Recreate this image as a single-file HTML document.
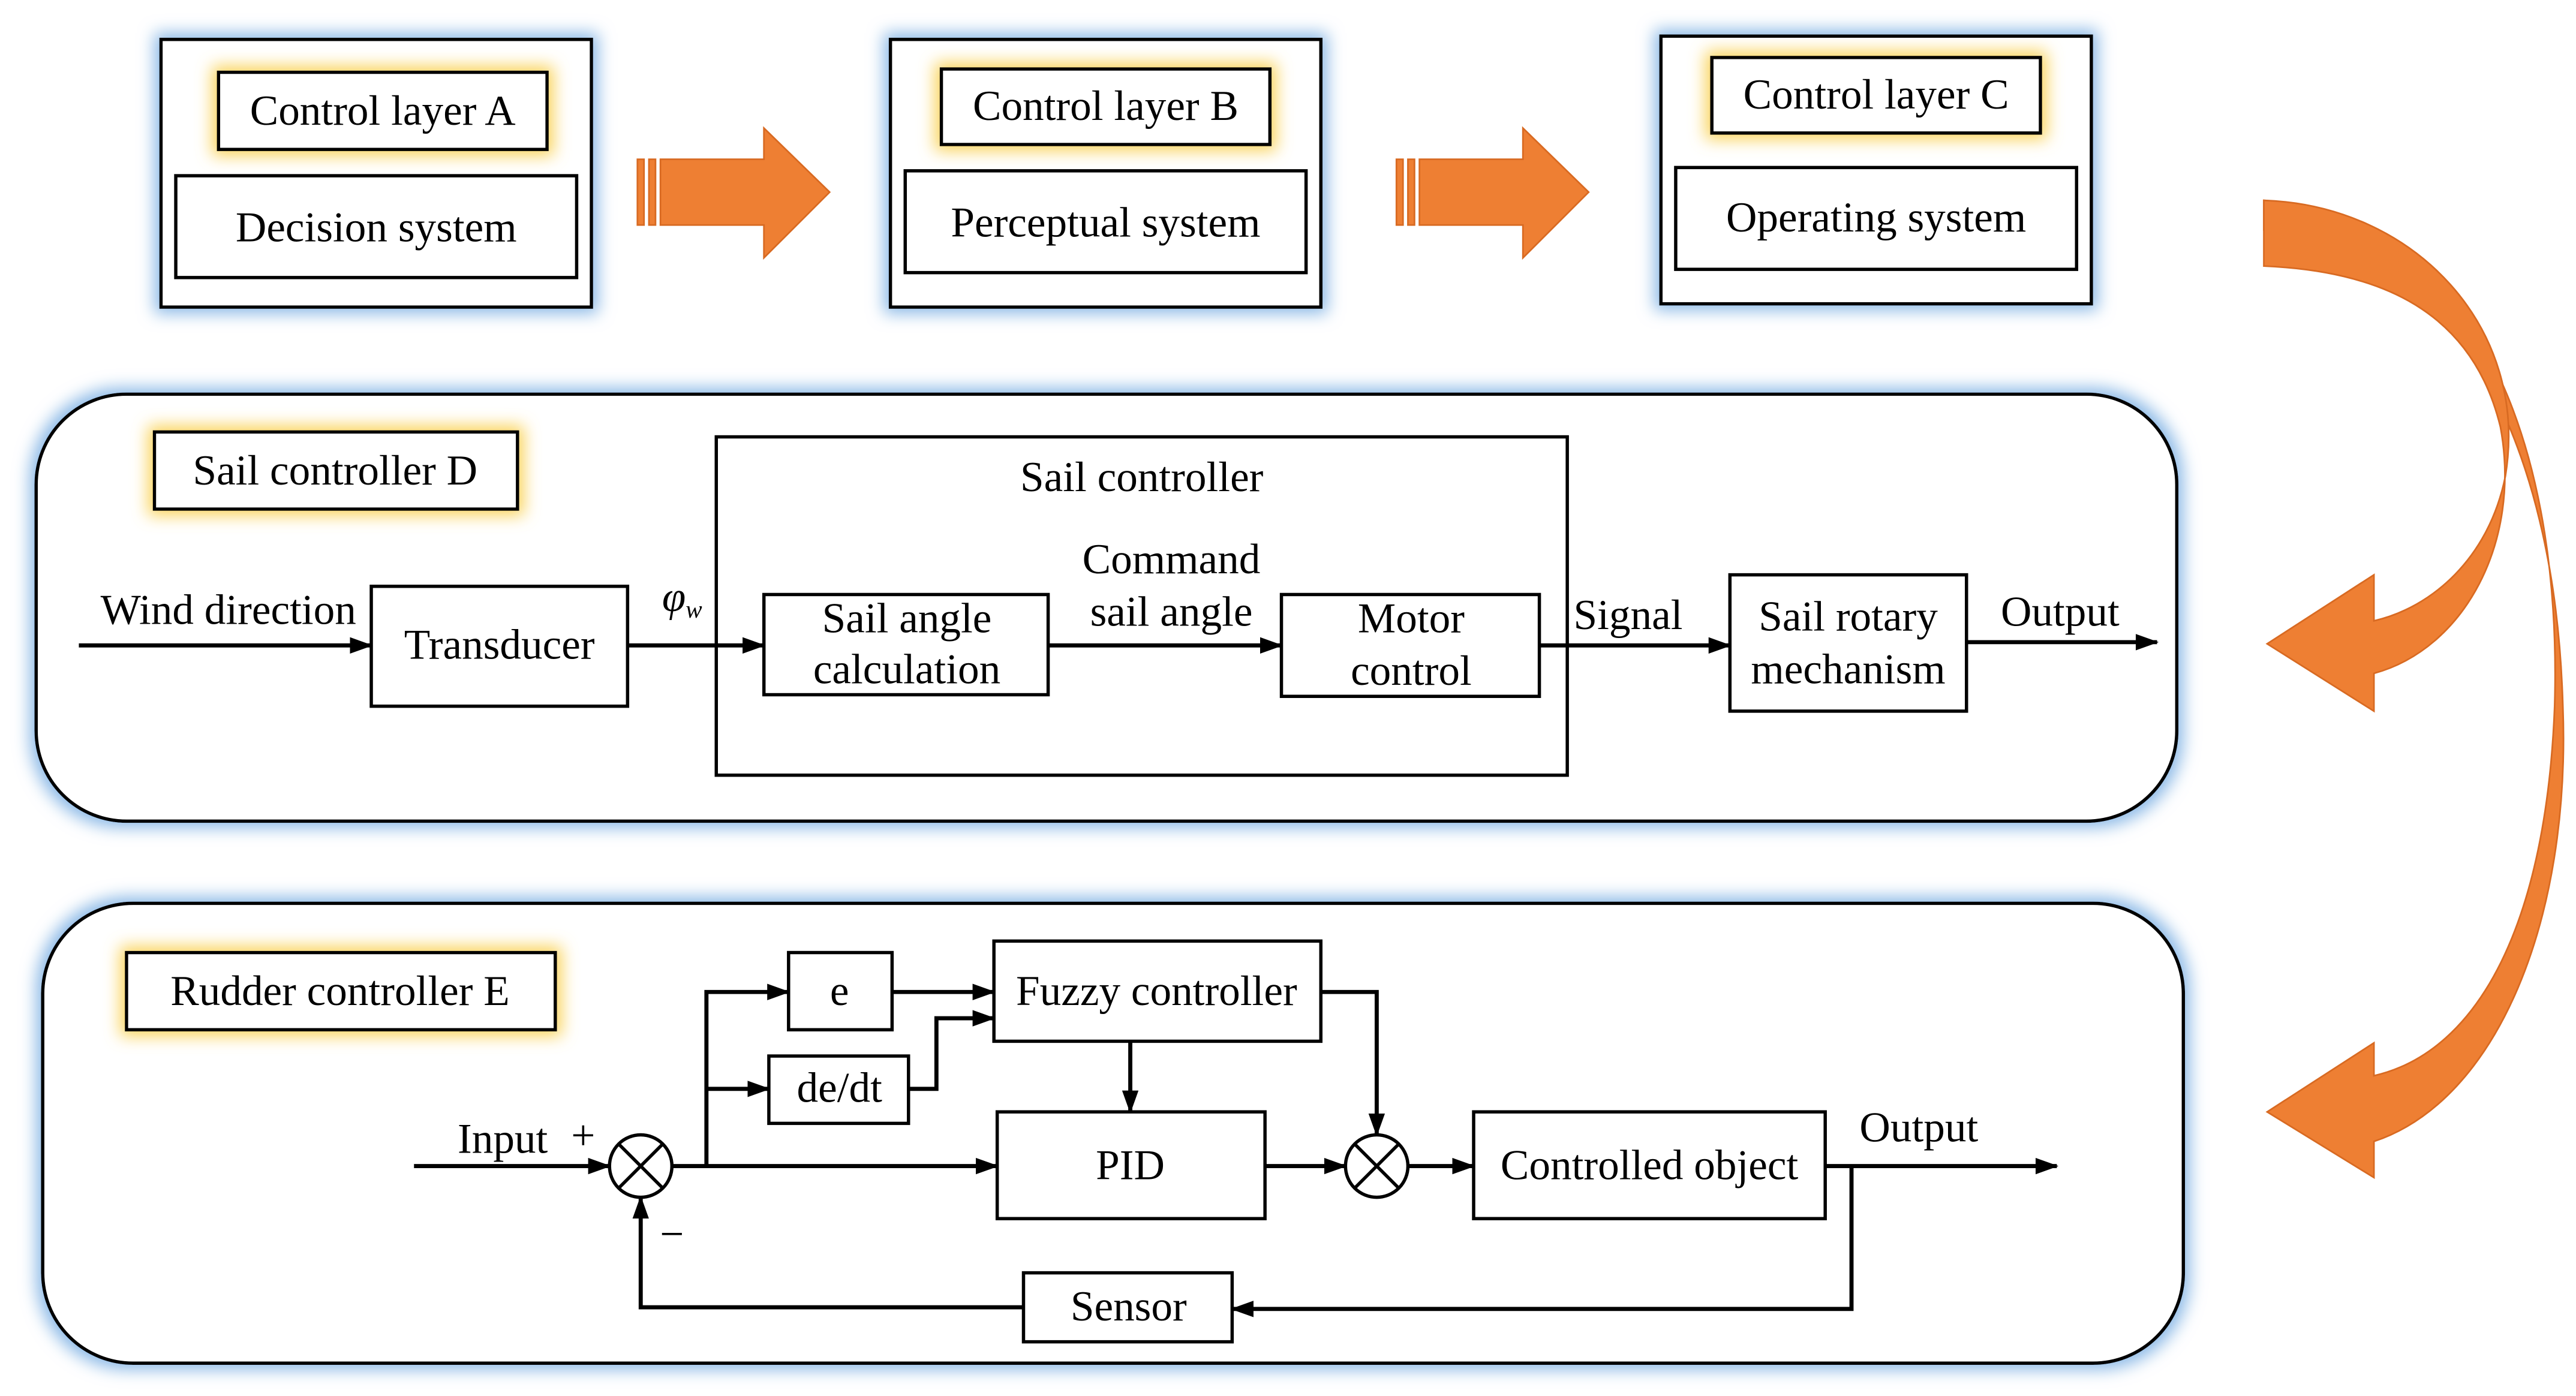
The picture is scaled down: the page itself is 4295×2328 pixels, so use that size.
<!DOCTYPE html>
<html><head><meta charset="utf-8"><style>
html,body{margin:0;padding:0;background:#fff;}
svg{display:block;}
text{font-family:"Liberation Serif",serif;font-size:26px;fill:#000;}
</style></head><body>
<svg width="4295" height="2328" viewBox="0 0 1568 850" preserveAspectRatio="none" xmlns="http://www.w3.org/2000/svg">
<defs>
<filter id="bg" x="-20%" y="-20%" width="140%" height="140%"><feMorphology in="SourceAlpha" operator="dilate" radius="3" result="d"/><feGaussianBlur in="d" stdDeviation="5" result="b"/><feFlood flood-color="#8ab8e6"/><feComposite in2="b" operator="in" result="g"/><feMerge><feMergeNode in="g"/><feMergeNode in="SourceGraphic"/></feMerge></filter>
<filter id="yg" x="-30%" y="-50%" width="160%" height="200%"><feMorphology in="SourceAlpha" operator="dilate" radius="3" result="d"/><feGaussianBlur in="d" stdDeviation="5" result="b"/><feFlood flood-color="#fad35a"/><feComposite in2="b" operator="in" result="g"/><feMerge><feMergeNode in="g"/><feMergeNode in="SourceGraphic"/></feMerge></filter>
<marker id="ar" markerWidth="14" markerHeight="10" refX="13" refY="5" orient="auto" markerUnits="userSpaceOnUse"><path d="M0,0 L14,5 L0,10 Z" fill="#000"/></marker>
</defs>
<g stroke="#000" stroke-width="2" fill="#fff">
<rect x="98" y="24" width="262" height="163" filter="url(#bg)"/>
<rect x="542" y="24" width="262" height="163" filter="url(#bg)"/>
<rect x="1011" y="22" width="262" height="163" filter="url(#bg)"/>
<rect x="133" y="44" width="200" height="47" filter="url(#yg)"/>
<rect x="573" y="42" width="200" height="46" filter="url(#yg)"/>
<rect x="1042" y="35" width="200" height="46" filter="url(#yg)"/>
<rect x="107" y="107" width="244" height="62"/>
<rect x="551" y="104" width="244" height="62"/>
<rect x="1020" y="102" width="244" height="62"/>
<rect x="22" y="240" width="1303" height="260" rx="55" filter="url(#bg)"/>
<rect x="26" y="550" width="1303" height="280" rx="55" filter="url(#bg)"/>
<rect x="94" y="263" width="221" height="47" filter="url(#yg)"/>
<rect x="77" y="580" width="261" height="47" filter="url(#yg)"/>
<rect x="436" y="266" width="518" height="206"/>
<rect x="226" y="357" width="156" height="73"/>
<rect x="465" y="362" width="173" height="61"/>
<rect x="780" y="362" width="157" height="62"/>
<rect x="1053" y="350" width="144" height="83"/>
<rect x="480" y="580" width="63" height="47"/>
<rect x="468" y="643" width="85" height="41"/>
<rect x="605" y="573" width="199" height="61"/>
<rect x="607" y="677" width="163" height="65"/>
<rect x="897" y="677" width="214" height="65"/>
<rect x="623" y="775" width="127" height="42"/>
<circle cx="390" cy="710" r="19"/>
<circle cx="838" cy="710" r="19"/>
</g>
<g stroke="#000" stroke-width="2">
<path d="M377,697 L403,723 M403,697 L377,723 M825,697 L851,723 M851,697 L825,723"/>
</g>
<g stroke="#000" stroke-width="2.5" fill="none" marker-end="url(#ar)">
<path d="M48,393 H226"/>
<path d="M382,393 H465"/>
<path d="M638,393 H780"/>
<path d="M937,393 H1053"/>
<path d="M1197,391 H1313"/>
<path d="M252,710 H371"/>
<path d="M409,710 H607"/>
<path d="M430,710 V604 H480"/>
<path d="M430,663 H468"/>
<path d="M543,604 H605"/>
<path d="M553,663 H570 V620 H605"/>
<path d="M688,634 V677"/>
<path d="M770,710 H819"/>
<path d="M804,604 H838 V691"/>
<path d="M857,710 H897"/>
<path d="M1111,710 H1252"/>
<path d="M1127,710 V797 H750"/>
<path d="M623,796 H390 V729"/>
</g>
<g fill="#ee7f33" stroke="#d86a22" stroke-width="1">
<rect x="388" y="97" width="4" height="40"/><rect x="395" y="97" width="4" height="40"/>
<path d="M402,97 H465 V78 L505,117 L465,157 V137 H402 Z"/>
<rect x="850" y="97" width="4" height="40"/><rect x="857" y="97" width="4" height="40"/>
<path d="M864,97 H927 V78 L967,117 L927,157 V137 H864 Z"/>
<path d="M1378,122 C1500,130 1560,260 1555,430 C1550,560 1510,640 1445,655 L1445,635 L1380,677 L1445,717 L1445,695 C1520,670 1565,560 1560,430 C1555,250 1480,140 1378,140 Z"/>
<path d="M1378,122 C1470,125 1540,200 1525,290 C1515,340 1480,370 1445,378 L1445,350 L1380,392 L1445,433 L1445,410 C1500,395 1535,330 1522,260 C1505,190 1450,165 1378,162 Z"/>
</g>
<g text-anchor="middle">
<text x="233" y="76">Control layer A</text>
<text x="229" y="147">Decision system</text>
<text x="673" y="73">Control layer B</text>
<text x="673" y="144">Perceptual system</text>
<text x="1142" y="66">Control layer C</text>
<text x="1142" y="141">Operating system</text>
<text x="204" y="295">Sail controller D</text>
<text x="695" y="299">Sail controller</text>
<text x="139" y="380">Wind direction</text>
<text x="304" y="401">Transducer</text>
<text x="552" y="385">Sail angle</text>
<text x="552" y="416">calculation</text>
<text x="713" y="349">Command</text>
<text x="713" y="381">sail angle</text>
<text x="859" y="385">Motor</text>
<text x="859" y="417">control</text>
<text x="991" y="383">Signal</text>
<text x="1125" y="384">Sail rotary</text>
<text x="1125" y="416">mechanism</text>
<text x="1254" y="381">Output</text>
<text x="207" y="612">Rudder controller E</text>
<text x="511" y="612">e</text>
<text x="511" y="671">de/dt</text>
<text x="704" y="612">Fuzzy controller</text>
<text x="688" y="718">PID</text>
<text x="1004" y="718">Controlled object</text>
<text x="1168" y="695">Output</text>
<text x="306" y="702">Input</text>
<text x="355" y="700">+</text>
<text x="409" y="760">−</text>
<text x="687" y="804">Sensor</text>
</g>
<text x="403" y="372" font-style="italic">φ<tspan font-size="15" dy="4">w</tspan></text>
</svg>
</body></html>
